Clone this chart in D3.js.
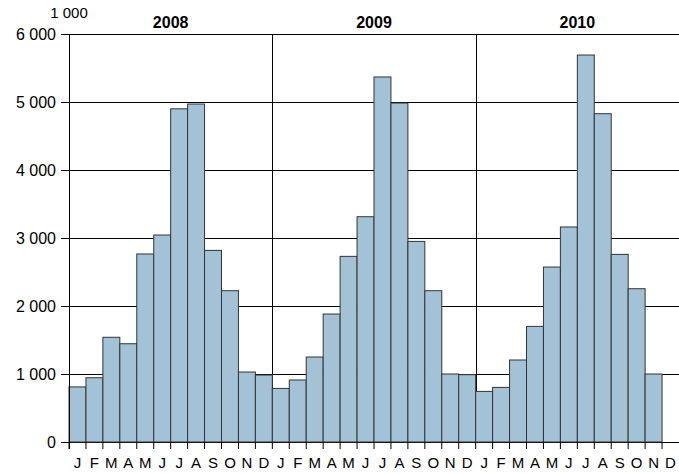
<!DOCTYPE html>
<html>
<head>
<meta charset="utf-8">
<script src="https://cdn.jsdelivr.net/npm/d3@7"></script>
<style>
  body { margin: 0; background: #fff; }
  svg { display: block; font-family: "Liberation Sans", Arial, sans-serif; }
  .tick text { font-size: 16px; fill: #000; }
</style>
</head>
<body>
<svg id="chart" width="679" height="474"></svg>
<script>
// monthly values, one array per year (null = no data)
const years = ['2008', '2009', '2010'];
const monthLabels = ['J', 'F', 'M', 'A', 'M', 'J', 'J', 'A', 'S', 'O', 'N', 'D'];
const values2008 = [810, 945, 1540, 1445, 2765, 3044, 4900, 4970, 2818, 2225, 1029, 985];
const values2009 = [788, 912, 1250, 1882, 2730, 3313, 5368, 4985, 2950, 2225, 1000, 990];
const values2010 = [744, 803, 1206, 1700, 2573, 3162, 5691, 4828, 2759, 2254, 1000, null];
const yTicks = [0, 1000, 2000, 3000, 4000, 5000, 6000];
const unitLabel = '1 000';

const margin = {top: 34, right: 0, bottom: 32, left: 69};
const width = 679, height = 474;

let rows = [];
[values2008, values2009, values2010].forEach((vals, yi) => {
  vals.forEach((v, mi) => {
    rows.push({key: yi * 12 + mi, year: years[yi], month: monthLabels[mi], value: v});
  });
});

let svg = d3.select('#chart');

let x = d3.scaleBand()
    .domain(rows.map(d => d.key))
    .range([margin.left, width - margin.right])
    .padding(0);
let y = d3.scaleLinear()
    .domain([0, 6000])
    .range([height - margin.bottom, margin.top]);

let fmt = d => d3.format(',')(d).replace(/,/g, ' ');

// horizontal grid + y ticks
svg.append('g')
    .attr('class', 'yaxis')
    .attr('transform', 'translate(' + margin.left + ',0)')
    .call(d3.axisLeft(y).tickValues(yTicks).tickFormat(fmt)
        .tickSize(-(width - margin.left - margin.right)).tickSizeOuter(0))
    .call(g => g.select('.domain').remove())
    .call(g => g.selectAll('.tick line')
        .attr('x1', -8).attr('stroke', '#000').attr('stroke-width', 1))
    .call(g => g.selectAll('.tick text').attr('x', -13).attr('dy', '0.36em'));

// vertical year separators
svg.append('g')
    .selectAll('line')
    .data(years.slice(1))
    .join('line')
    .attr('x1', (d, i) => Math.round(x((i + 1) * 12)) + 0.5)
    .attr('x2', (d, i) => Math.round(x((i + 1) * 12)) + 0.5)
    .attr('y1', y(6000))
    .attr('y2', y(0))
    .attr('stroke', '#000');

// bars
svg.append('g')
    .selectAll('rect')
    .data(rows.filter(d => d.value !== null))
    .join('rect')
    .attr('x', d => x(d.key))
    .attr('width', x.bandwidth())
    .attr('y', d => y(d.value))
    .attr('height', d => y(0) - y(d.value))
    .attr('fill', '#a4c2d6')
    .attr('stroke', '#333')
    .attr('stroke-width', 1);

// x axis with month letters
svg.append('g')
    .attr('class', 'xaxis')
    .attr('transform', 'translate(0,' + y(0) + ')')
    .call(d3.axisBottom(x).tickFormat(k => rows[k].month).tickSize(0))
    .call(g => g.select('.domain').remove())
    .call(g => g.selectAll('.tick text').attr('dy', 0).attr('y', 26).style('font-size', '15px'));

// tick marks at bar boundaries on x axis
svg.append('g')
    .selectAll('line')
    .data(rows.map(d => d.key))
    .join('line')
    .attr('x1', k => x(k))
    .attr('x2', k => x(k))
    .attr('y1', y(0))
    .attr('y2', y(0) + 7)
    .attr('stroke', '#000');

// y axis line
svg.append('line')
    .attr('x1', margin.left + 0.5)
    .attr('x2', margin.left + 0.5)
    .attr('y1', y(6000))
    .attr('y2', y(0) + 7)
    .attr('stroke', '#000');

// year titles
svg.append('g')
    .selectAll('text')
    .data(years)
    .join('text')
    .attr('x', (d, i) => (x(i * 12) + x(i * 12 + 11) + x.bandwidth()) / 2)
    .attr('y', 28)
    .attr('text-anchor', 'middle')
    .style('font-size', '16px')
    .style('font-weight', 'bold')
    .text(d => d);

// unit label
svg.append('text')
    .attr('x', margin.left)
    .attr('y', 18)
    .attr('text-anchor', 'middle')
    .style('font-size', '15px')
    .text(unitLabel);
</script>
</body>
</html>
